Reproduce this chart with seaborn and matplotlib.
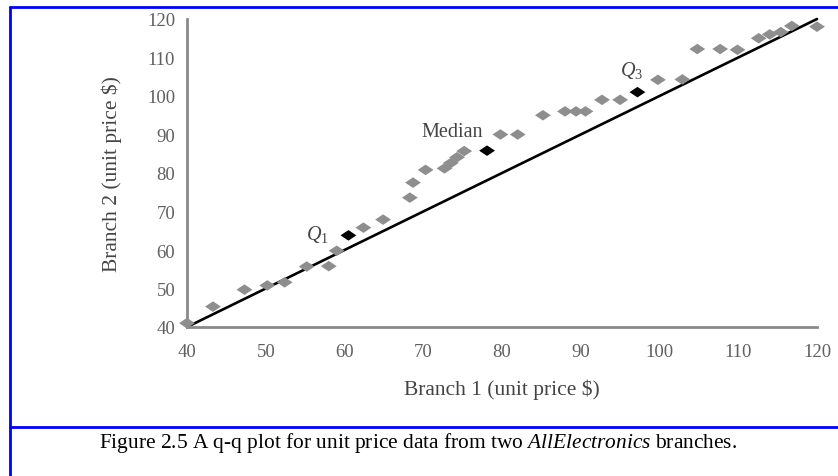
import matplotlib
matplotlib.use("Agg")
import matplotlib.pyplot as plt
from matplotlib.lines import Line2D
import seaborn as sns

# ---------------- data ----------------
branch1 = [40.0, 43.3, 47.3, 50.2, 52.4, 55.2, 58.0, 59.0, 62.4, 64.9,
           68.3, 68.7, 70.3, 72.7, 73.5, 74.3, 75.2, 79.8, 82.0, 85.2,
           88.0, 89.4, 90.6, 92.7, 95.0, 99.8, 102.9, 104.8, 107.7, 109.9,
           112.6, 114.0, 115.4, 116.8, 120.0]
branch2 = [41.0, 45.3, 49.7, 50.8, 51.6, 55.7, 55.8, 59.8, 65.8, 67.9,
           73.6, 77.5, 80.8, 81.2, 82.6, 84.1, 85.7, 90.0, 90.0, 95.0,
           96.0, 96.0, 96.0, 99.0, 99.0, 104.2, 104.3, 112.2, 112.2, 112.0,
           115.0, 116.0, 116.6, 118.2, 118.0]
quart_x = [60.5, 78.1, 97.2]
quart_y = [63.8, 85.8, 101.0]
quart_labels = ["$Q_1$", "Median", "$Q_3$"]
quart_label_x = [56.6, 73.7, 96.4]
quart_label_y = [64.3, 90.7, 107.0]
ref_x = [40, 120]
ref_y = [40, 120]
ticks = [40, 50, 60, 70, 80, 90, 100, 110, 120]
xlabel = "Branch 1 (unit price $)"
ylabel = "Branch 2 (unit price $)"
caption = r"Figure 2.5 A q-q plot for unit price data from two $\mathit{AllElectronics}$ branches."

# ---------------- style ----------------
sns.set_style("white")
plt.rcParams["font.family"] = ["Liberation Serif", "DejaVu Serif"]
plt.rcParams["mathtext.fontset"] = "custom"
plt.rcParams["mathtext.rm"] = "Liberation Serif"
plt.rcParams["mathtext.it"] = "Liberation Serif:italic"
plt.rcParams["mathtext.bf"] = "Liberation Serif:bold"

W, H = 838, 477
fig = plt.figure(figsize=(W / 100, H / 100), dpi=100)
fig.patch.set_facecolor("white")

# axes: x 40..120 -> px 187..817 ; y 40..120 -> px 328..20
ax = fig.add_axes([187 / W, 1 - 328 / H, 630 / W, 308 / H])
ax.set_facecolor("white")

axis_gray = "#8a8a8a"
pt_gray = "#8e8e8e"

sns.lineplot(x=ref_x, y=ref_y, ax=ax, color="black", linewidth=1.9,
             clip_on=False, zorder=2)

diamond = [(-1.5, 0), (0, 1), (1.5, 0), (0, -1)]
sns.scatterplot(x=branch1, y=branch2, ax=ax, marker=diamond, s=130,
                color=pt_gray, edgecolor="none", linewidth=0,
                clip_on=False, zorder=3)
sns.scatterplot(x=quart_x, y=quart_y, ax=ax, marker=diamond, s=130,
                color="black", edgecolor="none", linewidth=0,
                clip_on=False, zorder=4)

for lx, ly, lab in zip(quart_label_x, quart_label_y, quart_labels):
    ax.text(lx, ly, lab, ha="center", va="center", fontsize=14.5,
            color="#444444")

ax.set_xlim(40, 120)
ax.set_ylim(40, 120)
ax.set_xticks(ticks)
ax.set_yticks(ticks)
ax.set_xticklabels([str(t) for t in ticks])
ax.set_yticklabels([str(t) for t in ticks])

for side in ("top", "right"):
    ax.spines[side].set_visible(False)
for side in ("left", "bottom"):
    ax.spines[side].set_color(axis_gray)
    ax.spines[side].set_linewidth(2.0)

ax.tick_params(axis="both", which="major", direction="out", length=4.5,
               width=1.5, color=axis_gray, labelsize=13.5,
               labelcolor="#606060")
ax.tick_params(axis="x", pad=7)
ax.tick_params(axis="y", pad=4)

ax.set_xlabel(xlabel, fontsize=15.5, color="#444444")
ax.set_ylabel(ylabel, fontsize=15.5, color="#444444")
ax.xaxis.set_label_coords((502 - 187) / 630, (328 - 390) / 308)
ax.yaxis.set_label_coords((112 - 187) / 630, (328 - 174) / 308)
ax.xaxis.label.set_va("center")
ax.yaxis.label.set_va("center")

# ---------------- frame lines (blue) ----------------
blue = "#0000ff"
fig.add_artist(Line2D([10 / W, 1], [1 - 7.5 / H] * 2, transform=fig.transFigure,
                      color=blue, linewidth=2.0))
fig.add_artist(Line2D([10 / W, 1], [1 - 428 / H] * 2, transform=fig.transFigure,
                      color=blue, linewidth=2.0))
fig.add_artist(Line2D([10 / W] * 2, [1 - 7.5 / H, 0], transform=fig.transFigure,
                      color=blue, linewidth=2.0))

# ---------------- caption ----------------
cap = fig.text(99 / W, 1 - 448 / H, caption, ha="left", va="baseline",
               fontsize=13, color="black")
fig.canvas.draw()
w = cap.get_window_extent(fig.canvas.get_renderer()).width
cap.set_fontsize(13 * 636 / w)

fig.savefig("out.png", dpi=100, facecolor="white")
